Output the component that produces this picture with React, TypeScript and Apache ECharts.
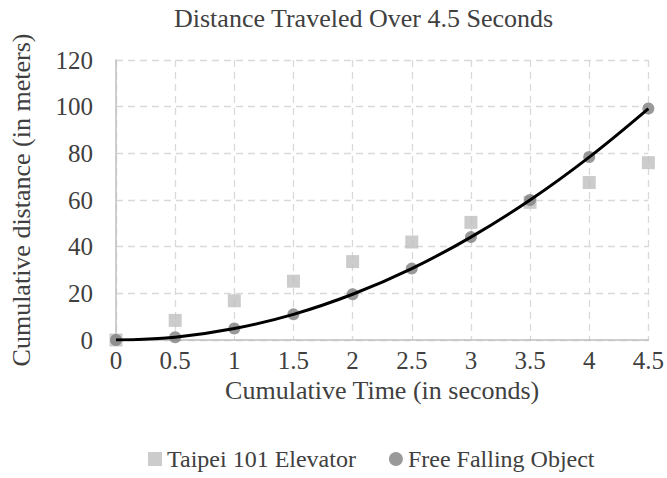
import React, { useEffect, useRef } from "react";
import * as echarts from "echarts";

const times = [0, 0.5, 1, 1.5, 2, 2.5, 3, 3.5, 4, 4.5];
const elevatorDistance = [0, 8.4, 16.8, 25.2, 33.6, 42.0, 50.4, 59.0, 67.5, 76.0];
const fallingDistance = [0, 1.2, 4.9, 11.0, 19.6, 30.6, 44.1, 60.0, 78.4, 99.2];

const FONT = "Liberation Serif";
const TEXT = "#404040";

export default function App() {
  const ref = useRef<HTMLDivElement>(null);
  useEffect(() => {
    if (!ref.current) return;
    const chart = echarts.init(ref.current, undefined, { renderer: "svg" });
    const pairs = (ys: number[]) => times.map((t, i) => [t, ys[i]]);
    chart.setOption({
      animation: false,
      backgroundColor: "#ffffff",
      title: {
        text: "Distance Traveled Over 4.5 Seconds",
        left: 169,
        top: 0,
        textStyle: { fontFamily: FONT, fontSize: 26, fontWeight: "normal", color: TEXT },
      },
      legend: {
        left: 143,
        bottom: 2,
        itemWidth: 14,
        itemHeight: 14,
        itemGap: 33,
        textStyle: { fontFamily: FONT, fontSize: 24, color: TEXT },
        data: [
          { name: "Taipei 101 Elevator", icon: "rect" },
          { name: "Free Falling Object", icon: "circle" },
        ],
      },
      grid: { left: 116, right: 18, top: 60, bottom: 138 },
      xAxis: {
        type: "value",
        min: 0,
        max: 4.5,
        interval: 0.5,
        name: "Cumulative Time (in seconds)",
        nameLocation: "middle",
        nameGap: 35,
        nameTextStyle: { fontFamily: FONT, fontSize: 26, color: TEXT },
        axisLine: { show: true, onZero: false, lineStyle: { color: "#bfbfbf", width: 1.5 } },
        axisTick: { show: false },
        axisLabel: { fontFamily: FONT, fontSize: 25, color: TEXT, margin: 8 },
        splitLine: { show: true, lineStyle: { color: "#d9d9d9", type: [7, 5], width: 1.3 } },
      },
      yAxis: {
        type: "value",
        min: 0,
        max: 120,
        interval: 20,
        name: "Cumulative distance (in meters)",
        nameLocation: "middle",
        nameGap: 82,
        nameTextStyle: { fontFamily: FONT, fontSize: 26, color: TEXT },
        axisLine: { show: true, lineStyle: { color: "#bfbfbf", width: 1.5 } },
        axisTick: { show: false },
        axisLabel: { fontFamily: FONT, fontSize: 25, color: TEXT, margin: 23 },
        splitLine: { show: true, lineStyle: { color: "#d9d9d9", type: [7, 5], width: 1.3 } },
      },
      series: [
        {
          name: "Taipei 101 Elevator",
          type: "scatter",
          symbol: "rect",
          symbolSize: 13,
          itemStyle: { color: "#bfbfbf" },
          data: pairs(elevatorDistance),
          z: 2,
        },
        {
          name: "Free Falling Object",
          type: "scatter",
          symbol: "circle",
          symbolSize: 12,
          itemStyle: { color: "#7f7f7f" },
          data: pairs(fallingDistance),
          z: 3,
        },
        {
          name: "trend",
          type: "line",
          smooth: 0.4,
          showSymbol: false,
          symbol: "none",
          lineStyle: { color: "#000000", width: 3 },
          data: pairs(fallingDistance),
          z: 4,
        },
      ],
    });
    return () => chart.dispose();
  }, []);
  return (
    <div
      ref={ref}
      style={{ position: "fixed", left: 0, top: 0, width: 667, height: 478 }}
    />
  );
}
